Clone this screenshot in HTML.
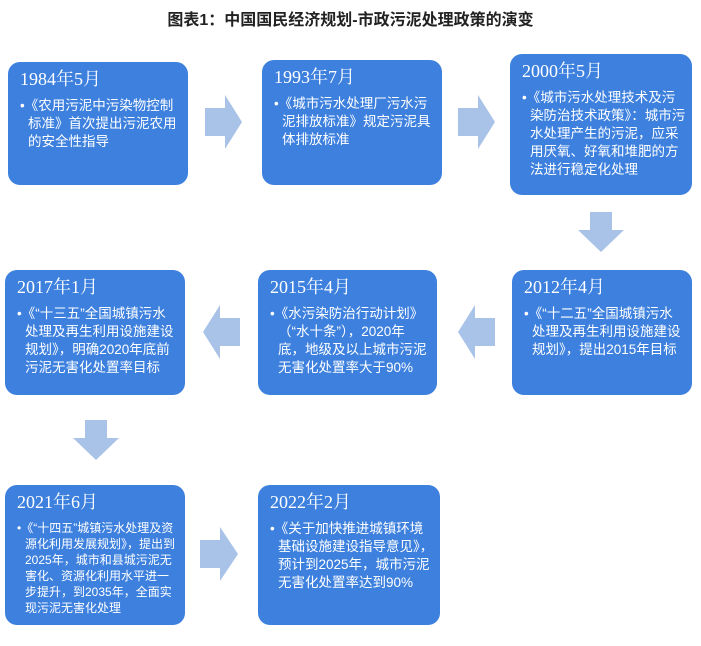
<!DOCTYPE html>
<html><head><meta charset="utf-8"><style>
body{margin:0;width:701px;height:646px;background:#fff;position:relative;overflow:hidden;font-family:"Liberation Sans","Noto Sans CJK SC",sans-serif}
.t{position:absolute;top:6px;left:0;width:701px;text-align:center;font-weight:bold;font-size:16px;color:#222}
.b{position:absolute;background:#3d80de;border-radius:12px;color:#fff;box-sizing:border-box;padding:6px 6px 0 12px}
.d{font-family:"Liberation Serif","Noto Serif CJK SC",serif;font-size:18px;line-height:22px;margin-bottom:7px}
.p{font-size:13.5px;line-height:18px;padding-left:8px;text-indent:-8px}
.s{font-size:12px;line-height:16px}
svg{position:absolute}
</style></head><body>
<div class="t">图表1：中国国民经济规划-市政污泥处理政策的演变</div>

<div class="b" style="left:8px;top:62px;width:180px;height:123px"><div class="d">1984年5月</div><div class="p">•《农用污泥中污染物控制标准》首次提出污泥农用的安全性指导</div></div>
<div class="b" style="left:262px;top:60px;width:180px;height:125px"><div class="d">1993年7月</div><div class="p">•《城市污水处理厂污水污泥排放标准》规定污泥具体排放标准</div></div>
<div class="b" style="left:510px;top:54px;width:182px;height:141px"><div class="d">2000年5月</div><div class="p">•《城市污水处理技术及污染防治技术政策》：城市污水处理产生的污泥，应采用厌氧、好氧和堆肥的方法进行稳定化处理</div></div>

<div class="b" style="left:5px;top:270px;width:180px;height:125px"><div class="d">2017年1月</div><div class="p">•《“十三五”全国城镇污水处理及再生利用设施建设规划》，明确2020年底前污泥无害化处置率目标</div></div>
<div class="b" style="left:258px;top:270px;width:179px;height:125px"><div class="d">2015年4月</div><div class="p">•《水污染防治行动计划》（“水十条”），2020年底，地级及以上城市污泥无害化处置率大于90%</div></div>
<div class="b" style="left:512px;top:270px;width:180px;height:125px"><div class="d">2012年4月</div><div class="p">•《“十二五”全国城镇污水处理及再生利用设施建设规划》，提出2015年目标</div></div>

<div class="b" style="left:5px;top:485px;width:180px;height:140px"><div class="d">2021年6月</div><div class="p s">•《“十四五”城镇污水处理及资源化利用发展规划》，提出到2025年，城市和县城污泥无害化、资源化利用水平进一步提升，到2035年，全面实现污泥无害化处理</div></div>
<div class="b" style="left:258px;top:485px;width:182px;height:140px"><div class="d">2022年2月</div><div class="p">•《关于加快推进城镇环境基础设施建设指导意见》，预计到2025年，城市污泥无害化处置率达到90%</div></div>

<svg width="701" height="646" style="left:0;top:0" fill="#a9c3e8">
<polygon points="205,108 225,108 225,95 242,122 225,149 225,136 205,136"/>
<polygon points="458,108 478,108 478,95 495,122 478,149 478,136 458,136"/>
<polygon points="590,212 612,212 612,230 624,230 601,252 578,230 590,230"/>
<polygon points="240,318 220,318 220,305 203,332 220,359 220,346 240,346"/>
<polygon points="495,318 475,318 475,305 458,332 475,359 475,346 495,346"/>
<polygon points="85,420 107,420 107,438 119,438 96,460 73,438 85,438"/>
<polygon points="200,540 220,540 220,527 238,554 220,581 220,568 200,568"/>
</svg>
</body></html>
